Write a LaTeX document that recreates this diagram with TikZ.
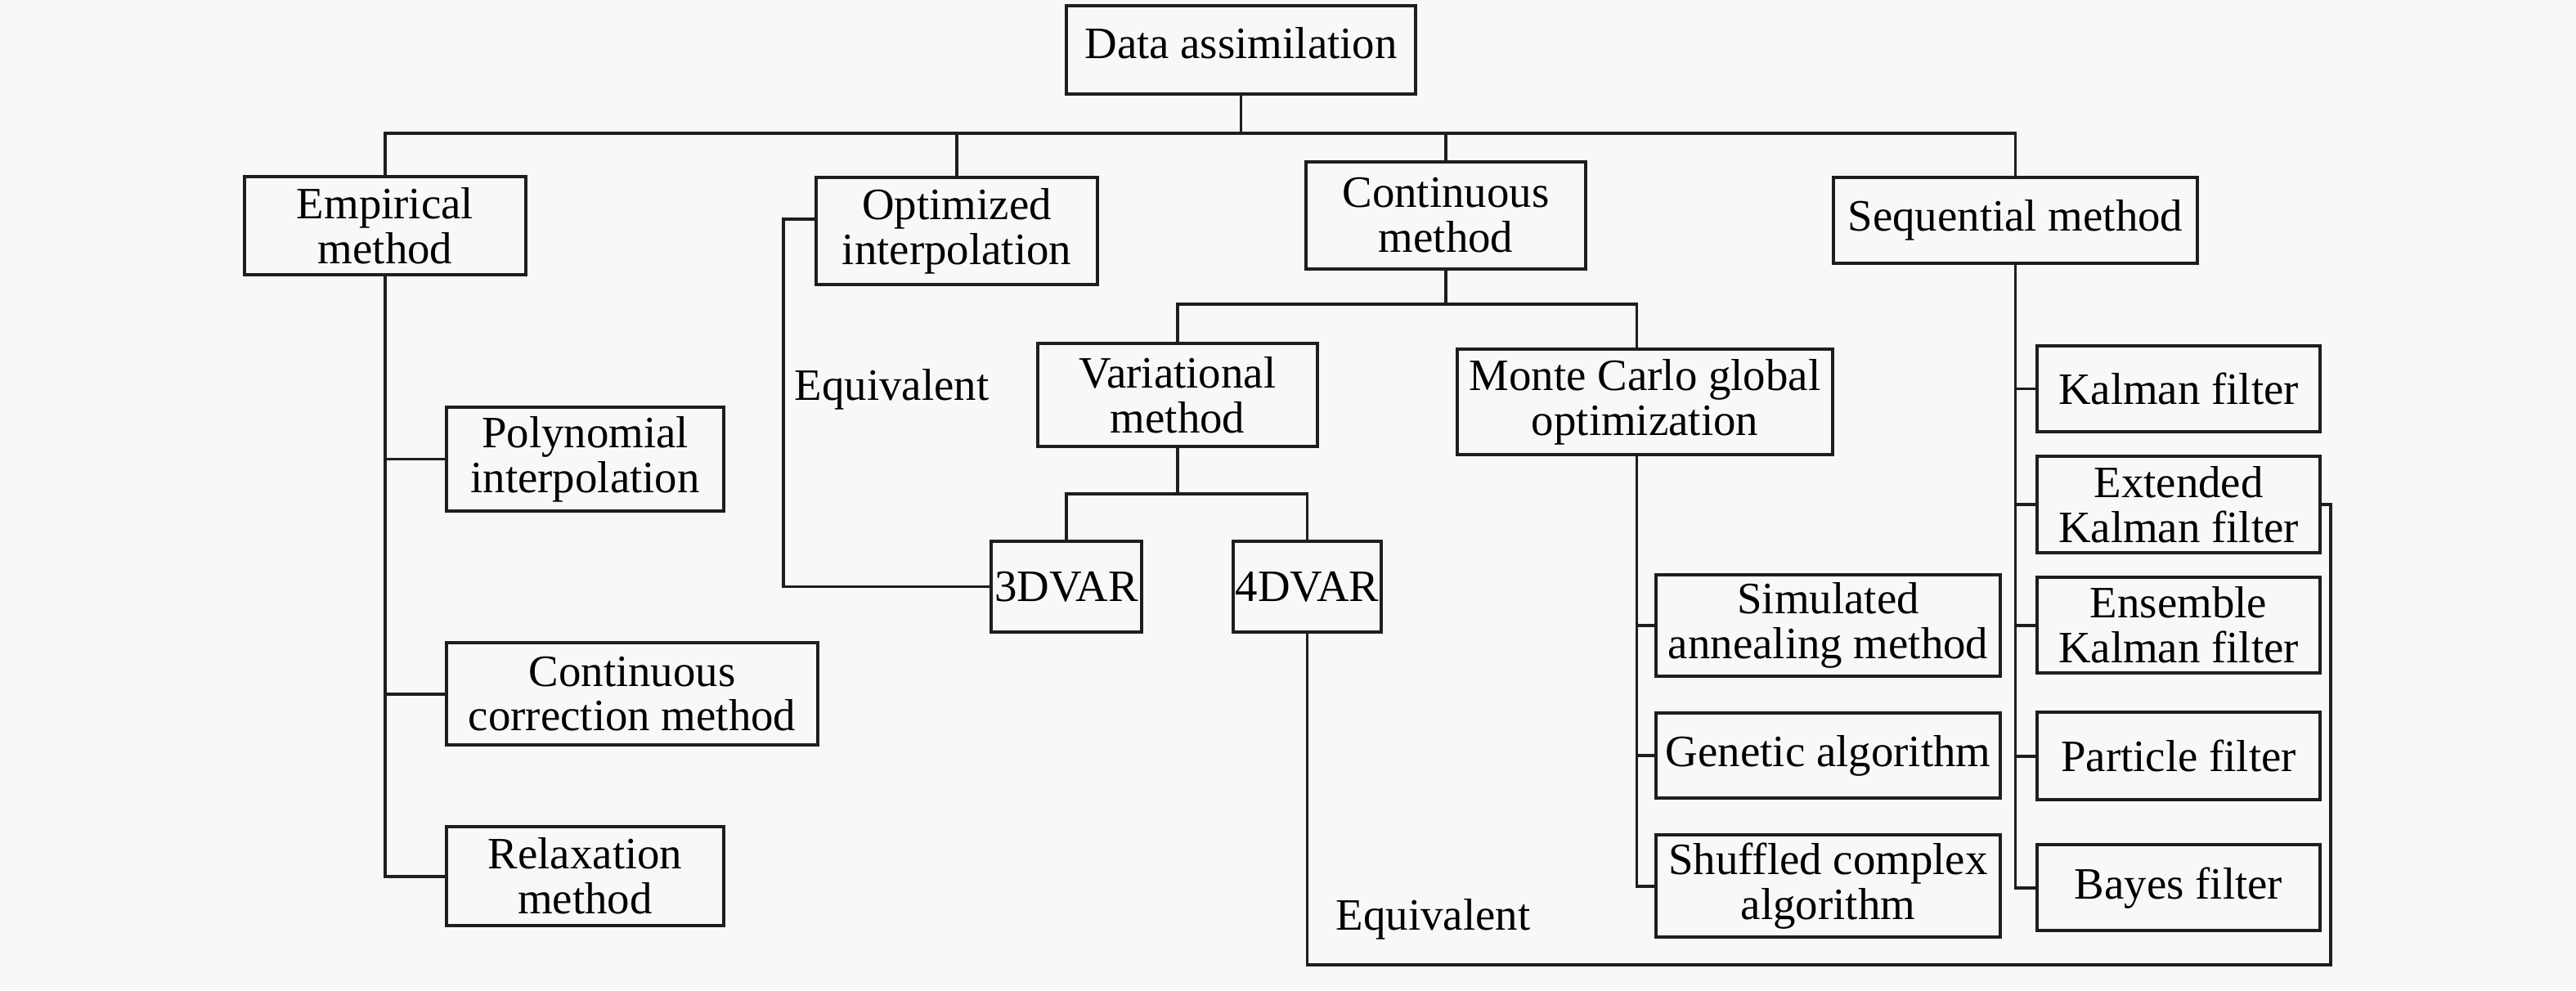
\documentclass[tikz,border=0pt]{standalone}
\usepackage{fontspec}
\setmainfont{Liberation Serif}
\usepackage{tikz}
\usetikzlibrary{positioning,calc}
\definecolor{fondo}{RGB}{248,248,248}
\definecolor{tinta}{RGB}{30,30,30}

\begin{document}
\begin{tikzpicture}[%
         tipocaja/.style={rectangle,draw=tinta,line width=1.15pt,align=center,inner sep=0pt,
                          font=\fontsize{15.6}{15.6}\selectfont},
         tipotexto/.style={inner sep=0pt,font=\fontsize{15.6}{15.6}\selectfont},
         tipolinea/.style={draw=tinta,line width=1.1pt},
         tam/.style 2 args={minimum width=#1mm,minimum height=#2mm}]
        \useasboundingbox [fill=fondo] (0,0) rectangle (31.5,-12.11);
        \node [tipocaja,tam={42.7}{10.8},text depth=1.8mm] (data) at (15.175,-0.61) {Data assimilation};
        \node [tipocaja,tam={34.4}{12.0}] (empirical) at (4.71,-2.76) {Empirical\\method};
        \node [tipocaja,tam={34.4}{13.1}] (optimized) at (11.70,-2.825) {Optimized\\interpolation};
        \node [tipocaja,tam={34.2}{13.1}] (continuous) at (17.68,-2.635) {Continuous\\method};
        \node [tipocaja,tam={44.5}{10.5}] (sequential) at (24.645,-2.695) {Sequential method};
        \node [tipocaja,tam={33.9}{12.7}] (poly) [anchor=north west] at (5.44,-4.96) {Polynomial\\interpolation};
        \node [tipocaja,tam={45.4}{12.5}] (correction) [below=15.7mm of poly.south west,anchor=north west] {Continuous\\correction method};
        \node [tipocaja,tam={33.9}{12.1}] (relax) [below=9.6mm of correction.south west,anchor=north west] {Relaxation\\method};
        \node [tipocaja,tam={34.2}{12.6}] (variational) at (14.40,-4.83) {Variational\\method};
        \node [tipocaja,tam={45.9}{12.9}] (montecarlo) at (20.115,-4.915) {Monte Carlo global\\optimization};
        \node [tipocaja,tam={18.4}{11.1}] (var3d) at (13.04,-7.175) {3DVAR};
        \node [tipocaja,tam={18.1}{11.1}] (var4d) at (15.985,-7.175) {4DVAR};
        \node [tipocaja,tam={42.1}{12.4}] (simulated) [anchor=north west] at (20.23,-7.01) {Simulated\\annealing method};
        \node [tipocaja,tam={42.1}{10.4}] (genetic) [below=4.1mm of simulated] {Genetic algorithm};
        \node [tipocaja,tam={42.1}{12.5}] (shuffled) [below=4.1mm of genetic] {Shuffled complex\\algorithm};
        \node [tipocaja,tam={34.6}{10.5}] (kalman) [anchor=north west] at (24.89,-4.21) {Kalman filter};
        \node [tipocaja,tam={34.6}{11.8}] (extended) [below=2.6mm of kalman] {Extended\\Kalman filter};
        \node [tipocaja,tam={34.6}{11.7}] (ensemble) [below=2.6mm of extended] {Ensemble\\Kalman filter};
        \node [tipocaja,tam={34.6}{10.7}] (particle) [below=4.4mm of ensemble] {Particle filter};
        \node [tipocaja,tam={34.6}{10.5}] (bayes) [below=5.1mm of particle] {Bayes filter};
        \node [tipotexto,anchor=base west] (equiv1) at (9.71,-4.89) {Equivalent};
        \node [tipotexto,anchor=base west] (equiv2) at (16.33,-11.37) {Equivalent};
        \coordinate (bus) at (0,-1.63);
        \coordinate (bus2) at (0,-3.72);
        \coordinate (bus3) at (0,-6.04);
        \coordinate (esquina) at (28.50,-11.80);
        \coordinate (mc) at ([xshift=-1mm]montecarlo.south);
        \draw [tipolinea] (data.south) -- (data.south |- bus);
        \draw [tipolinea] (empirical.north) |- (bus -| sequential.north) -- (sequential.north);
        \foreach \n in {optimized,continuous}
          \draw [tipolinea] (\n.north) -- (\n.north |- bus);
        \draw [tipolinea] (empirical.south) |- (relax.west);
        \foreach \n in {poly,correction}
          \draw [tipolinea] (empirical.south |- \n.west) -- (\n.west);
        \draw [tipolinea] ([yshift=1.45mm]optimized.west) -- ++(-3.8mm,0) |- (var3d.west);
        \draw [tipolinea] (continuous.south) -- (continuous.south |- bus2);
        \draw [tipolinea] (variational.north) |- (mc |- bus2) -- (mc |- montecarlo.north);
        \draw [tipolinea] (variational.south) -- (variational.south |- bus3);
        \draw [tipolinea] (var3d.north) |- (var4d.north |- bus3) -- (var4d.north);
        \draw [tipolinea] (var4d.south) |- (esquina) |- (extended.east);
        \draw [tipolinea] (mc) |- (shuffled.west);
        \foreach \n in {simulated,genetic}
          \draw [tipolinea] (mc |- \n.west) -- (\n.west);
        \draw [tipolinea] (sequential.south) |- (bayes.west);
        \foreach \n in {kalman,extended,ensemble,particle}
          \draw [tipolinea] (sequential.south |- \n.west) -- (\n.west);
      \end{tikzpicture}
\end{document}
